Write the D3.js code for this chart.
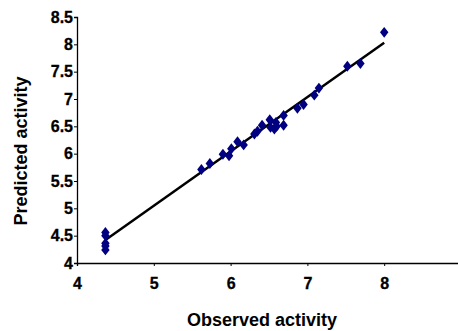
<!DOCTYPE html>
<html><head><meta charset="utf-8">
<script src="https://cdn.jsdelivr.net/npm/d3@7"></script>
<style>body{margin:0;background:#fff}svg{display:block}
svg text{font-family:'Liberation Sans',Arial,sans-serif;font-weight:bold}
.tick text{font-size:16px}</style>
</head><body>
<script>
const observed = [4.37,4.37,4.37,4.37,4.37,5.62,5.73,5.90,5.98,6.01,6.09,6.17,6.31,6.35,6.41,6.51,6.52,6.57,6.60,6.59,6.69,6.69,6.87,6.95,7.09,7.15,7.52,7.69,8.00];
const predicted = [4.56,4.50,4.36,4.31,4.24,5.71,5.82,5.99,5.96,6.09,6.22,6.16,6.36,6.41,6.52,6.62,6.48,6.45,6.50,6.57,6.70,6.52,6.83,6.90,7.07,7.20,7.60,7.65,8.22];
const fitX = [4.37, 8.00];
const fitY = [4.42, 8.03];
const xTicks = [4,5,6,7,8];
const yTicks = [4,4.5,5,5.5,6,6.5,7,7.5,8,8.5];
const xTitle = "Observed activity";
const yTitle = "Predicted activity";

const W=458,H=331;
const svg=d3.select("body").append("svg").attr("width",W).attr("height",H);
const x=d3.scaleLinear().domain([4,9]).range([77,461]);
const y=d3.scaleLinear().domain([4,8.5]).range([263,17]);

const xa=svg.append("g").attr("transform","translate(0,263)")
  .call(d3.axisBottom(x).tickValues(xTicks).tickFormat(d3.format("d")).tickSize(3).tickPadding(12));
const ya=svg.append("g").attr("transform","translate(77,0)")
  .call(d3.axisLeft(y).tickValues(yTicks).tickFormat(d=>String(d)).tickSize(3).tickPadding(1));
[xa,ya].forEach(a=>{
  a.attr("font-family",null).attr("font-size",null);
  a.selectAll("path").attr("stroke","#000").attr("stroke-width",1.3);
  a.selectAll("line").attr("stroke","#000");
  a.selectAll("text").attr("fill","#000").attr("stroke","#000").attr("stroke-width",0.3);
});

svg.append("line")
  .attr("x1",x(fitX[0])).attr("y1",y(fitY[0]))
  .attr("x2",x(fitX[1])).attr("y2",y(fitY[1]))
  .attr("stroke","#000").attr("stroke-width",2.5);

const diamond=d3.symbol().type(d3.symbolDiamond).size(34);
svg.append("g").selectAll("path").data(observed.map((o,i)=>[o,predicted[i]])).join("path")
  .attr("d",diamond)
  .attr("transform",d=>`translate(${x(d[0])},${y(d[1])}) scale(1.35,1)`)
  .attr("fill","#000080");

svg.append("text").attr("x",262).attr("y",326).attr("text-anchor","middle")
  .style("font-size","18px").text(xTitle);
svg.append("text").attr("transform","translate(27,151) rotate(-90)").attr("text-anchor","middle")
  .style("font-size","18px").text(yTitle);
</script>
</body></html>
